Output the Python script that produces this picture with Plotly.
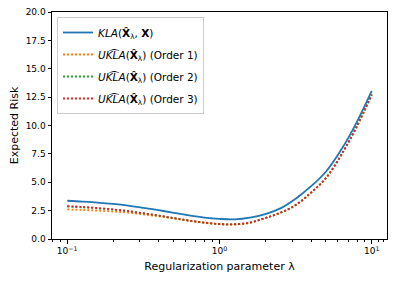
import plotly.graph_objects as go

lam = [0.1, 0.126, 0.158, 0.2, 0.251, 0.316, 0.398, 0.501, 0.631, 0.794, 1.0,
       1.259, 1.585, 1.995, 2.512, 3.162, 3.981, 5.012, 6.31, 7.943, 10.0]
kla = [3.37, 3.30, 3.21, 3.09, 2.94, 2.75, 2.54, 2.31, 2.08, 1.89, 1.77,
       1.73, 1.88, 2.20, 2.70, 3.55, 4.63, 5.95, 7.88, 10.26, 13.05]
order1 = [2.61, 2.56, 2.50, 2.42, 2.32, 2.17, 2.00, 1.80, 1.60, 1.43, 1.30,
          1.28, 1.43, 1.83, 2.30, 2.97, 4.05, 5.36, 7.38, 9.82, 12.65]
order2 = [2.86, 2.79, 2.70, 2.59, 2.45, 2.26, 2.06, 1.84, 1.62, 1.44, 1.31,
          1.29, 1.44, 1.84, 2.31, 2.99, 4.07, 5.38, 7.42, 9.87, 12.72]
order3 = [2.90, 2.83, 2.73, 2.61, 2.46, 2.27, 2.07, 1.85, 1.63, 1.45, 1.32,
          1.30, 1.45, 1.85, 2.32, 3.00, 4.08, 5.40, 7.44, 9.90, 12.75]

names = ["<i>KLA</i>(<b>X̂</b><sub>λ</sub>, <b>X</b>)",
         "<i>UK͡LA</i>(<b>X̂</b><sub>λ</sub>) (Order 1)",
         "<i>UK͡LA</i>(<b>X̂</b><sub>λ</sub>) (Order 2)",
         "<i>UK͡LA</i>(<b>X̂</b><sub>λ</sub>) (Order 3)"]
xticks = [0.1, 1, 10]
xticklabels = ["10<sup>−1</sup>", "10<sup>0</sup>", "10<sup>1</sup>"]
yticks = [0, 2.5, 5, 7.5, 10, 12.5, 15, 17.5, 20]

fig = go.Figure()
fig.add_trace(go.Scatter(x=lam, y=kla, mode="lines", name=names[0], legendgroup="a",
                         line=dict(color="#1f77b4", width=1.8, shape="spline")))
for ys, nm, col, g in [(order1, names[1], "#ff7f0e", "b"), (order2, names[2], "#2ca02c", "c"),
                       (order3, names[3], "#d62728", "d")]:
    fig.add_trace(go.Scatter(x=lam, y=ys, mode="lines", name=nm, legendgroup=g,
                             line=dict(color=col, width=1.8, dash="2px,2px", shape="spline")))

minor = [0.08, 0.09] + [0.1 * m for m in range(2, 10)] + [m for m in range(2, 10)] + [11, 12]
fig.update_layout(
    width=391, height=274,
    margin=dict(l=44, r=12, t=4, b=43),
    paper_bgcolor="white", plot_bgcolor="white",
    font=dict(family="DejaVu Sans", size=10, color="black"),
    legend=dict(x=0.015, y=0.978, xanchor="left", yanchor="top",
                bgcolor="rgba(255,255,255,0.8)", bordercolor="#cccccc", borderwidth=1,
                font=dict(size=10.5), tracegroupgap=3, itemwidth=30),
    xaxis=dict(type="log", range=[-1.1, 1.1], tickvals=xticks, ticktext=xticklabels,
               ticks="outside", ticklen=3.5, tickwidth=0.8, tickcolor="black",
               tickfont=dict(size=9), automargin=False, ticklabeloverflow="allow",
               showgrid=False, zeroline=False, showline=True, linecolor="black",
               linewidth=1, mirror=True,
               minor=dict(tickvals=minor, ticks="outside", ticklen=2, tickwidth=0.6,
                          tickcolor="black", showgrid=False),
               title=dict(text="Regularization parameter λ", font=dict(size=11), standoff=7)),
    yaxis=dict(range=[0, 20], tickvals=yticks, tickformat=".1f",
               ticks="outside", ticklen=3.5, tickwidth=0.8, tickcolor="black",
               tickfont=dict(size=9), automargin=False, ticklabeloverflow="allow",
               showgrid=False, zeroline=False, showline=True, linecolor="black",
               linewidth=1, mirror=True,
               title=dict(text="Expected Risk", font=dict(size=11), standoff=6)),
)
fig.write_html("out.html")
